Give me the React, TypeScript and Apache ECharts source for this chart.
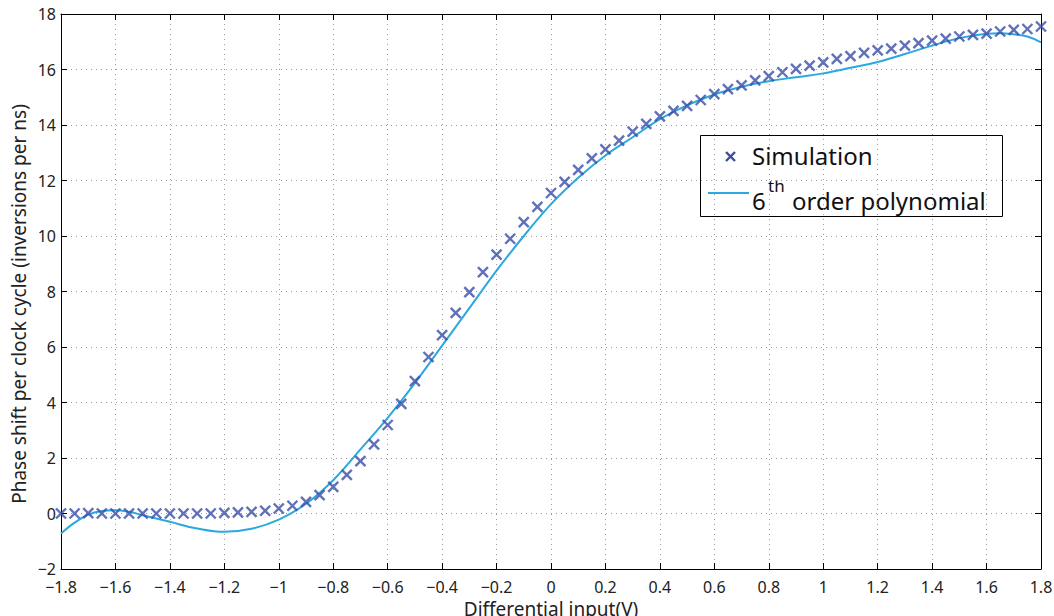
import React, { useEffect, useRef } from "react";
import * as echarts from "echarts";

const simX = [
  -1.8, -1.75, -1.7, -1.65, -1.6, -1.55, -1.5, -1.45, -1.4, -1.35, -1.3, -1.25,
  -1.2, -1.15, -1.1, -1.05, -1.0, -0.95, -0.9, -0.85, -0.8, -0.75, -0.7, -0.65,
  -0.6, -0.55, -0.5, -0.45, -0.4, -0.35, -0.3, -0.25, -0.2, -0.15, -0.1, -0.05,
  0, 0.05, 0.1, 0.15, 0.2, 0.25, 0.3, 0.35, 0.4, 0.45, 0.5, 0.55, 0.6, 0.65,
  0.7, 0.75, 0.8, 0.85, 0.9, 0.95, 1.0, 1.05, 1.1, 1.15, 1.2, 1.25, 1.3, 1.35,
  1.4, 1.45, 1.5, 1.55, 1.6, 1.65, 1.7, 1.75, 1.8,
];
const simY = [
  0, 0, 0.01, 0, 0, 0, 0, 0, 0, 0, 0, 0,
  0.02, 0.04, 0.06, 0.1, 0.18, 0.28, 0.42, 0.66, 0.96, 1.39, 1.89, 2.49,
  3.19, 3.95, 4.77, 5.64, 6.43, 7.23, 7.98, 8.7, 9.33, 9.9, 10.5, 11.05,
  11.55, 11.95, 12.38, 12.8, 13.12, 13.44, 13.76, 14.04, 14.31, 14.51, 14.69, 14.9, 15.11, 15.29,
  15.43, 15.61, 15.76, 15.9, 16.02, 16.14, 16.26, 16.38, 16.48, 16.6, 16.69, 16.75, 16.86, 16.95,
  17.04, 17.11, 17.19, 17.25, 17.29, 17.37, 17.43, 17.46, 17.55,
];

const polyX = [
  -1.8, -1.75, -1.7, -1.65, -1.6, -1.55, -1.5, -1.4, -1.3, -1.2, -1.1, -1.0,
  -0.9, -0.8, -0.7, -0.6, -0.5, -0.4, -0.3, -0.2, -0.1, 0, 0.1, 0.2, 0.3,
  0.4, 0.5, 0.6, 0.7, 0.8, 0.9, 1.0, 1.1, 1.2, 1.3, 1.4, 1.5, 1.6, 1.65,
  1.7, 1.75, 1.8,
];
const polyY = [
  -0.72, -0.33, -0.04, 0.09, 0.12, 0.06, -0.06, -0.3, -0.54, -0.66, -0.55, -0.22,
  0.35, 1.2, 2.31, 3.45, 4.7, 6.05, 7.4, 8.75, 10.0, 11.15, 12.1, 12.9, 13.56,
  14.21, 14.71, 15.1, 15.38, 15.58, 15.72, 15.86, 16.06, 16.27, 16.56, 16.86, 17.13, 17.29, 17.31,
  17.27, 17.19, 16.98,
];

const legendLabels = ["Simulation", "6", "th", "order polynomial"];
const xAxisTitle = "Differential input(V)";
const yAxisTitle = "Phase shift per clock cycle (inversions per ns)";

const FONT = "'Noto Sans', 'Open Sans', sans-serif";
const SIM_COLOR = "#3a4ea8";
const POLY_COLOR = "#2aa8e0";

function fmt(v: number): string {
  const r = Math.round(v * 10) / 10;
  const s = String(Math.abs(r));
  return r < 0 ? "\u2212" + s : s;
}

export default function App() {
  const ref = useRef<HTMLDivElement>(null);
  useEffect(() => {
    if (!ref.current) return;
    const chart = echarts.init(ref.current, undefined, { renderer: "svg" });
    const axisCommon = {
      axisLine: { show: true, onZero: false, lineStyle: { color: "#000", width: 1 } },
      axisTick: { show: true, inside: true, length: 6, lineStyle: { color: "#000" } },
    };
    const gridLine = { show: true, lineStyle: { color: "#9a9a9a", width: 1, type: [1, 4] } };
    const legendText = (text: string, x: number, y: number, size: number) => ({
      type: "text",
      x,
      y,
      style: {
        text,
        fontSize: size,
        lineHeight: size,
        fontFamily: FONT,
        fill: "#111",
        verticalAlign: "middle",
        align: "left",
      },
    });
    chart.setOption({
      animation: false,
      backgroundColor: "#fff",
      textStyle: { fontFamily: FONT },
      grid: {
        left: 61,
        right: 13,
        top: 14,
        bottom: 47,
        containLabel: false,
        outerBoundsMode: "none",
      },
      xAxis: [
        {
          type: "value",
          min: -1.8,
          max: 1.8,
          interval: 0.2,
          position: "bottom",
          ...axisCommon,
          splitLine: gridLine,
          axisLabel: {
            formatter: fmt,
            color: "#222",
            fontSize: 16,
            lineHeight: 16,
            margin: 10,
            fontFamily: FONT,
          },
          name: xAxisTitle,
          nameLocation: "middle",
          nameGap: 21,
          nameTextStyle: { color: "#222", fontSize: 19, fontFamily: FONT },
        },
        {
          type: "value",
          min: -1.8,
          max: 1.8,
          interval: 0.2,
          position: "top",
          ...axisCommon,
          splitLine: { show: false },
          axisLabel: { show: false },
        },
      ],
      yAxis: [
        {
          type: "value",
          min: -2,
          max: 18,
          interval: 2,
          position: "left",
          ...axisCommon,
          splitLine: gridLine,
          axisLabel: {
            formatter: fmt,
            color: "#222",
            fontSize: 16,
            lineHeight: 13,
            margin: 5,
            fontFamily: FONT,
          },
        },
        {
          type: "value",
          min: -2,
          max: 18,
          interval: 2,
          position: "right",
          ...axisCommon,
          splitLine: { show: false },
          axisLabel: { show: false },
        },
      ],
      series: [
        {
          type: "line",
          name: "poly",
          data: polyX.map((x, i) => [x, polyY[i]]),
          smooth: 0.4,
          showSymbol: false,
          lineStyle: { color: POLY_COLOR, width: 2 },
          z: 2,
        },
        {
          type: "scatter",
          name: "sim",
          data: simX.map((x, i) => [x, simY[i]]),
          symbol: "path://M0,0L10,10M10,0L0,10",
          symbolSize: 10,
          itemStyle: { color: "none", borderColor: SIM_COLOR, borderWidth: 2.4 },
          z: 3,
        },
      ],
      graphic: [
        {
          type: "text",
          x: 19,
          y: 304,
          rotation: Math.PI / 2,
          style: {
            text: yAxisTitle,
            fontSize: 19,
            fontFamily: FONT,
            fill: "#222",
            align: "center",
            verticalAlign: "middle",
          },
        },
        {
          type: "group",
          z: 100,
          children: [
            {
              type: "rect",
              shape: { x: 700.5, y: 135.5, width: 302, height: 81 },
              style: { fill: "#fff", stroke: "#000", lineWidth: 1 },
            },
            {
              type: "line",
              shape: { x1: 726, y1: 152, x2: 735, y2: 161 },
              style: { stroke: SIM_COLOR, lineWidth: 2.4 },
            },
            {
              type: "line",
              shape: { x1: 735, y1: 152, x2: 726, y2: 161 },
              style: { stroke: SIM_COLOR, lineWidth: 2.4 },
            },
            legendText(legendLabels[0], 752, 155, 24),
            {
              type: "line",
              shape: { x1: 708, y1: 193, x2: 749, y2: 193 },
              style: { stroke: POLY_COLOR, lineWidth: 2 },
            },
            legendText(legendLabels[1], 752, 200, 24),
            legendText(legendLabels[2], 768, 185, 17),
            legendText(legendLabels[3], 792, 200, 24),
          ],
        },
      ],
    });
    return () => chart.dispose();
  }, []);
  return (
    <div
      ref={ref}
      style={{ position: "absolute", left: 0, top: 0, width: 1054, height: 616 }}
    />
  );
}
